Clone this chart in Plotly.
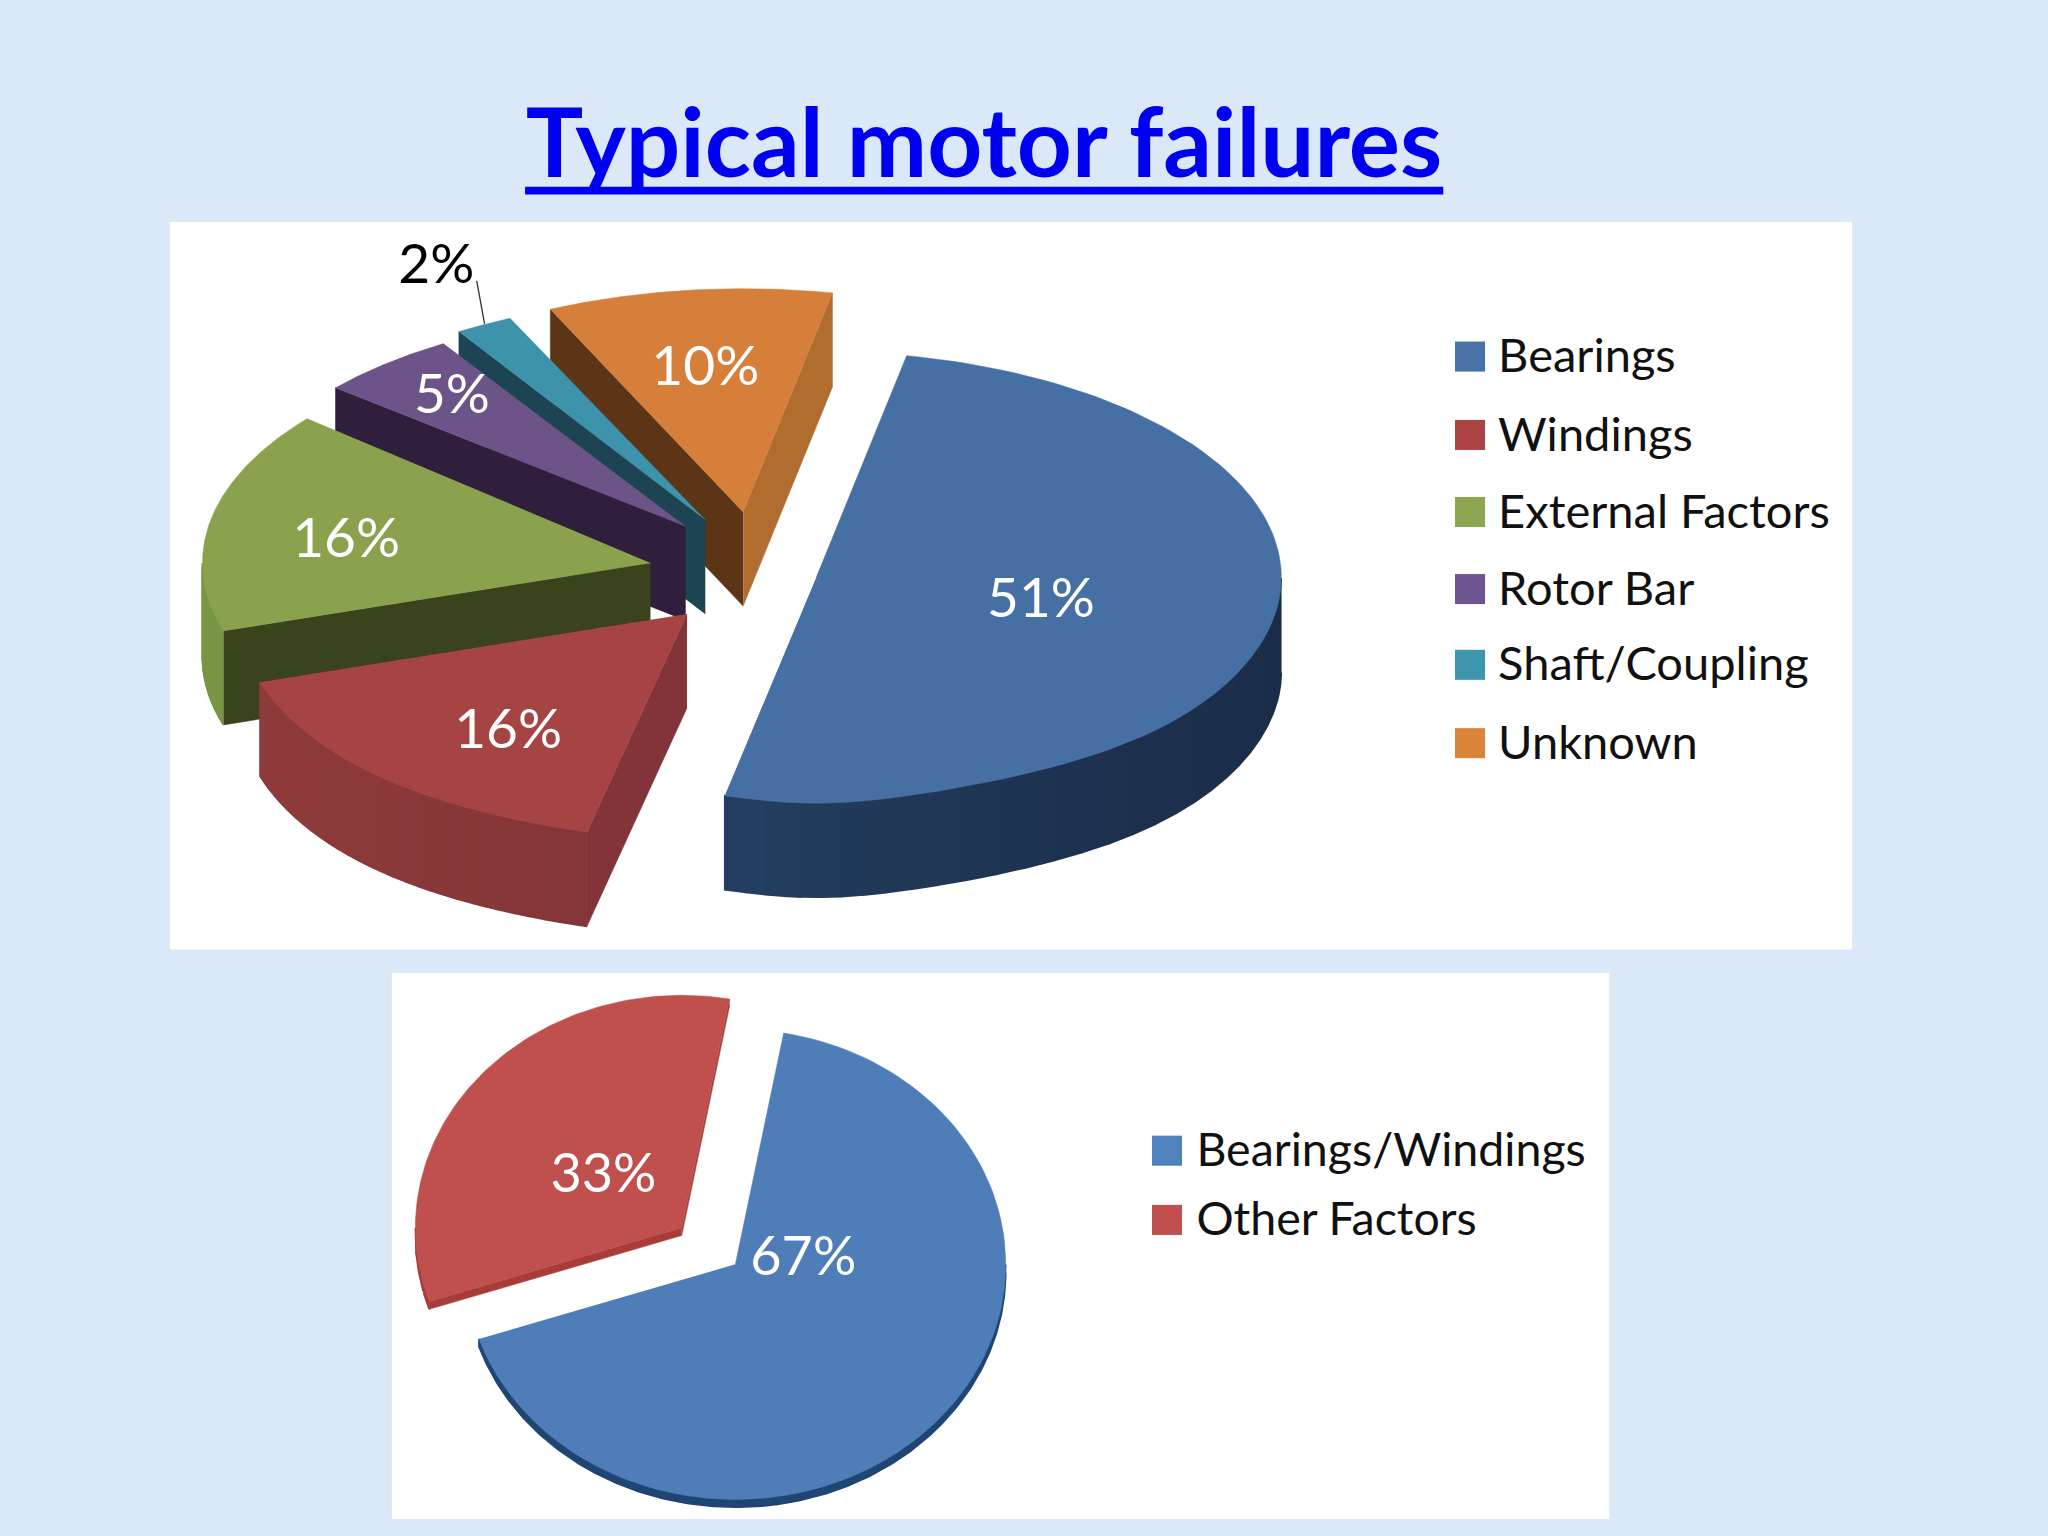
import numpy as np
import plotly.graph_objects as go

# ---- data ----
TITLE = "Typical motor failures"
CAUSES = ["Bearings", "Windings", "External Factors", "Rotor Bar", "Shaft/Coupling", "Unknown"]
CAUSE_SHARES = [51, 16, 16, 5, 2, 10]
GROUPS = ["Bearings/Windings", "Other Factors"]
GROUP_SHARES = [67, 33]

# ---- styles (layout measured on a 1568-wide grid, scaled by S) ----
S = 2048 / 1568
FONT = "Lato"
CAUSE_TOP = ["#4670a4", "#a64444", "#8aa24e", "#6c5488", "#3d93ab", "#d57f3b"]
CAUSE_KEY = ["#4872a8", "#ab4343", "#8ba64e", "#6e5490", "#3d96ae", "#d98438"]
CAUSE_RADIAL = [("#1d3557", "#1d3557"), ("#83343a", "#83343a"), ("#3a431c", "#3a431c"),
                ("#2f1f3c", "#2f1f3c"), ("#1c4452", "#1c4452"), ("#5c3517", "#b06d2f")]
CAUSE_ARC = [("#1a2c48", "#2a4a70"), ("#722b30", "#8f3b3b"), ("#7a9645", "#7a9645"),
             ("#2f1f3c", "#2f1f3c"), ("#1c4452", "#1c4452"), ("#b06d2f", "#b06d2f")]
CAUSE_APEX = [(625, 442), (526, 470), (498, 431), (525, 403), (540, 398), (569, 392)]
CAUSE_RX = [356, 343, 343, 350, 356, 352]
CAUSE_RY = [173, 173, 172, 165, 170, 171]
CAUSE_PINCH = [0.31, 0.17, 0, 0, 0, 0]
CAUSE_LABEL_XY = [(797, 458), (389, 558), (265, 412), (346, 302), (334, 202), (540, 280)]
CAUSE_LABEL_COLOR = ["white", "white", "white", "white", "black", "white"]
CAUSE_ORDER = [5, 4, 3, 2, 1, 0]

GROUP_TOP = ["#4f7db8", "#bf504d"]
GROUP_KEY = ["#4f81bd", "#c0504d"]
GROUP_RADIAL = [("#1f4575", "#1f4575"), ("#a83c38", "#a83c38")]
GROUP_ARC = [("#1f4575", "#1f4575"), ("#a83c38", "#a83c38")]
GROUP_APEX = [(563, 968), (522, 940)]
GROUP_RX = [207, 204]
GROUP_RY = [180, 178]
GROUP_PINCH = [0, 0]
GROUP_LABEL_XY = [(615, 962), (462, 898)]
GROUP_ORDER = [1, 0]


def hex_mix(c1, c2, t):
    a = [int(c1[i:i + 2], 16) for i in (1, 3, 5)]
    b = [int(c2[i:i + 2], 16) for i in (1, 3, 5)]
    return "rgb(%d,%d,%d)" % tuple(round(p + (q - p) * t) for p, q in zip(a, b))


fig = go.Figure()


def poly(xs, ys, color, width=0.5):
    fig.add_trace(go.Scatter(x=np.asarray(xs) * S, y=np.asarray(ys) * S, mode="lines",
                             fill="toself", fillcolor=color,
                             line=dict(color=color, width=width),
                             hoverinfo="skip", showlegend=False))


def tilted_pie(values, start_deg, rx, ry, pinch, depth, apex, top, radial, arc, order, steps=30):
    """Angles come from the values; rx, ry tilt the circle into an ellipse."""
    shares = np.asarray(values, float) / np.sum(values) * 360
    starts = start_deg - np.concatenate(([0], np.cumsum(shares)[:-1]))
    for i in order:
        t0, t1 = starts[i], starts[i] - shares[i]
        cx, cy = apex[i]
        a, b, k = rx[i], ry[i], pinch[i]
        # the very front of the pie narrows slightly, as in the reference's perspective
        px = lambda t: cx + a * np.cos(np.radians(t)) * (1 + k * np.minimum(np.sin(np.radians(t)), 0) ** 9)
        py = lambda t: cy - b * np.sin(np.radians(t))
        for edge, visible, col in ((t0, np.cos(np.radians(t0)) < 0, radial[i][0]),
                                   (t1, np.cos(np.radians(t1)) > 0, radial[i][1])):
            if visible:
                poly([cx, px(edge), px(edge), cx], [cy, py(edge), py(edge) + depth, cy + depth], col)
        ts = np.linspace(t0, t1, 361)
        ts = ts[np.sin(np.radians(ts)) <= 0]
        if len(ts) > 1:
            parts = np.array_split(ts, steps)
            prev = ts[0]
            for part in parts:
                seg = np.concatenate(([prev], part))
                prev = part[-1]
                u = px(seg)
                v = py(seg)
                mix = np.clip((1 + np.cos(np.radians(seg.mean()))) / 2, 0, 1)
                poly(np.concatenate((u, u[::-1])), np.concatenate((v, v[::-1] + depth)),
                     hex_mix(arc[i][1], arc[i][0], mix), width=1.6)
        ts = np.linspace(t0, t1, 121)
        poly(np.concatenate(([cx], px(ts))), np.concatenate(([cy], py(ts))), top[i])


def labels(xy, texts, colors, size):
    fig.add_trace(go.Scatter(x=[p[0] * S for p in xy], y=[(p[1] + 4) * S for p in xy], mode="text",
                             text=texts, textposition="middle center",
                             textfont=dict(family=FONT, size=size, color=colors),
                             hoverinfo="skip", showlegend=False))


def key(names, colors, box_x, text_x, ys, size):
    fig.add_trace(go.Scatter(x=[box_x * S] * len(names), y=[v * S for v in ys], mode="markers",
                             marker=dict(symbol="square", size=23 * S, color=colors, line=dict(width=0)),
                             hoverinfo="skip", showlegend=False))
    fig.add_trace(go.Scatter(x=[text_x * S] * len(names), y=[(v + 3) * S for v in ys], mode="text",
                             text=names, textposition="middle right",
                             textfont=dict(family=FONT, size=size, color="#111111"),
                             hoverinfo="skip", showlegend=False))


tilted_pie(CAUSE_SHARES, 78.8, CAUSE_RX, CAUSE_RY, CAUSE_PINCH, 72, CAUSE_APEX,
           CAUSE_TOP, CAUSE_RADIAL, CAUSE_ARC, CAUSE_ORDER)
tilted_pie(GROUP_SHARES, 79.7, GROUP_RX, GROUP_RY, GROUP_PINCH, 6, GROUP_APEX,
           GROUP_TOP, GROUP_RADIAL, GROUP_ARC, GROUP_ORDER, steps=4)

fig.add_trace(go.Scatter(x=[371 * S, 365 * S], y=[248 * S, 215 * S], mode="lines",
                         line=dict(color="#333333", width=1.3), hoverinfo="skip", showlegend=False))

labels(CAUSE_LABEL_XY, [f"{v}%" for v in CAUSE_SHARES], CAUSE_LABEL_COLOR, 55)
labels(GROUP_LABEL_XY, [f"{v}%" for v in GROUP_SHARES], ["white", "white"], 54)
key(CAUSES, CAUSE_KEY, 1125.5, 1147, [273, 333, 392, 451, 509, 569], 47)
key(GROUPS, GROUP_KEY, 893.5, 916, [881, 934], 46.5)

panels = [(130, 170, 1418, 727), (300, 745, 1232, 1163)]
shapes = [dict(type="rect", x0=p[0] * S, y0=p[1] * S, x1=p[2] * S, y1=p[3] * S,
               fillcolor="white", line=dict(width=0), layer="below") for p in panels]
shapes.append(dict(type="rect", x0=402 * S, x1=1105 * S, y0=143 * S, y1=149 * S,
                   fillcolor="#0000f0", line=dict(width=0), layer="above"))
fig.update_layout(
    width=2048, height=1536, margin=dict(l=0, r=0, t=0, b=0),
    paper_bgcolor="#dbe8f7", plot_bgcolor="#dbe8f7", showlegend=False,
    xaxis=dict(range=[0, 2048], visible=False, fixedrange=True),
    yaxis=dict(range=[1536, 0], visible=False, fixedrange=True),
    title=dict(text=f"<b>{TITLE}</b>", x=984 / 2048, xanchor="center",
               y=1 - 143 / 1536, yanchor="middle",
               font=dict(family=FONT, size=96, color="#0000f0", weight=700)),
    shapes=shapes,
)
fig.write_html("out.html", config={"displayModeBar": False},
               post_script="document.body.style.margin='0';")
